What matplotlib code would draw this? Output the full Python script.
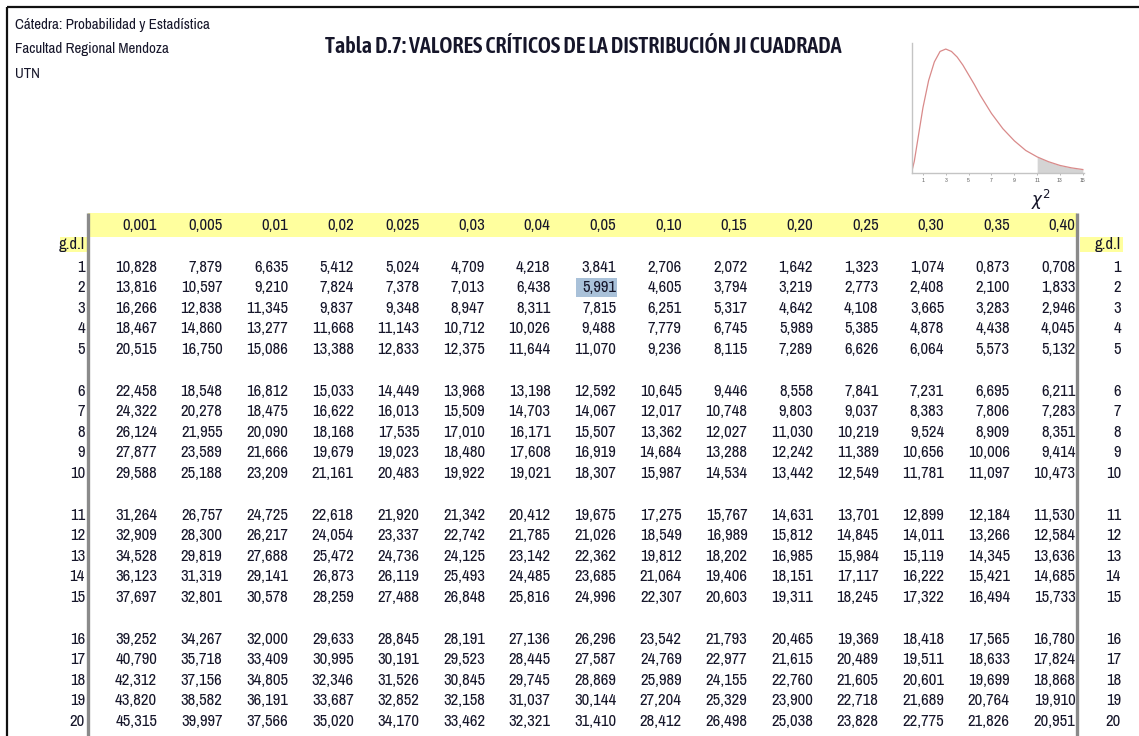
import matplotlib
matplotlib.use('Agg')
import matplotlib.pyplot as plt
from matplotlib.patches import Rectangle

plt.rcParams['font.family'] = ['Archivo Narrow', 'Asap Condensed', 'DejaVu Sans']

# --- data ---
HEADER_LINES = ['Cátedra: Probabilidad y Estadística', 'Facultad Regional Mendoza', 'UTN']
TITLE = 'Tabla D.7: VALORES CRÍTICOS DE LA DISTRIBUCIÓN JI CUADRADA'
ALPHAS = ['0,001', '0,005', '0,01', '0,02', '0,025', '0,03', '0,04', '0,05',
          '0,10', '0,15', '0,20', '0,25', '0,30', '0,35', '0,40']
DF = list(range(1, 21))
CRIT = [
    [10.828, 7.879, 6.635, 5.412, 5.024, 4.709, 4.218, 3.841, 2.706, 2.072, 1.642, 1.323, 1.074, 0.873, 0.708],
    [13.816, 10.597, 9.210, 7.824, 7.378, 7.013, 6.438, 5.991, 4.605, 3.794, 3.219, 2.773, 2.408, 2.100, 1.833],
    [16.266, 12.838, 11.345, 9.837, 9.348, 8.947, 8.311, 7.815, 6.251, 5.317, 4.642, 4.108, 3.665, 3.283, 2.946],
    [18.467, 14.860, 13.277, 11.668, 11.143, 10.712, 10.026, 9.488, 7.779, 6.745, 5.989, 5.385, 4.878, 4.438, 4.045],
    [20.515, 16.750, 15.086, 13.388, 12.833, 12.375, 11.644, 11.070, 9.236, 8.115, 7.289, 6.626, 6.064, 5.573, 5.132],
    [22.458, 18.548, 16.812, 15.033, 14.449, 13.968, 13.198, 12.592, 10.645, 9.446, 8.558, 7.841, 7.231, 6.695, 6.211],
    [24.322, 20.278, 18.475, 16.622, 16.013, 15.509, 14.703, 14.067, 12.017, 10.748, 9.803, 9.037, 8.383, 7.806, 7.283],
    [26.124, 21.955, 20.090, 18.168, 17.535, 17.010, 16.171, 15.507, 13.362, 12.027, 11.030, 10.219, 9.524, 8.909, 8.351],
    [27.877, 23.589, 21.666, 19.679, 19.023, 18.480, 17.608, 16.919, 14.684, 13.288, 12.242, 11.389, 10.656, 10.006, 9.414],
    [29.588, 25.188, 23.209, 21.161, 20.483, 19.922, 19.021, 18.307, 15.987, 14.534, 13.442, 12.549, 11.781, 11.097, 10.473],
    [31.264, 26.757, 24.725, 22.618, 21.920, 21.342, 20.412, 19.675, 17.275, 15.767, 14.631, 13.701, 12.899, 12.184, 11.530],
    [32.909, 28.300, 26.217, 24.054, 23.337, 22.742, 21.785, 21.026, 18.549, 16.989, 15.812, 14.845, 14.011, 13.266, 12.584],
    [34.528, 29.819, 27.688, 25.472, 24.736, 24.125, 23.142, 22.362, 19.812, 18.202, 16.985, 15.984, 15.119, 14.345, 13.636],
    [36.123, 31.319, 29.141, 26.873, 26.119, 25.493, 24.485, 23.685, 21.064, 19.406, 18.151, 17.117, 16.222, 15.421, 14.685],
    [37.697, 32.801, 30.578, 28.259, 27.488, 26.848, 25.816, 24.996, 22.307, 20.603, 19.311, 18.245, 17.322, 16.494, 15.733],
    [39.252, 34.267, 32.000, 29.633, 28.845, 28.191, 27.136, 26.296, 23.542, 21.793, 20.465, 19.369, 18.418, 17.565, 16.780],
    [40.790, 35.718, 33.409, 30.995, 30.191, 29.523, 28.445, 27.587, 24.769, 22.977, 21.615, 20.489, 19.511, 18.633, 17.824],
    [42.312, 37.156, 34.805, 32.346, 31.526, 30.845, 29.745, 28.869, 25.989, 24.155, 22.760, 21.605, 20.601, 19.699, 18.868],
    [43.820, 38.582, 36.191, 33.687, 32.852, 32.158, 31.037, 30.144, 27.204, 25.329, 23.900, 22.718, 21.689, 20.764, 19.910],
    [45.315, 39.997, 37.566, 35.020, 34.170, 33.462, 32.321, 31.410, 28.412, 26.498, 25.038, 23.828, 22.775, 21.826, 20.951],
]
HIGHLIGHT = (2, '0,05')  # g.d.l 2, alpha 0.05

# density curve in the small sketch
PDF_X = [0, 0.25, 0.5, 1, 1.5, 2, 2.5, 3, 3.5, 4, 4.5, 5, 5.5, 6, 7, 8, 9, 10, 11, 12, 13, 14, 15]
PDF_Y = [0, 0.015, 0.037, 0.081, 0.115, 0.138, 0.151, 0.154, 0.151, 0.144, 0.134, 0.122,
         0.110, 0.097, 0.074, 0.055, 0.040, 0.028, 0.020, 0.014, 0.0094, 0.0064, 0.0043]
SKETCH_TICKS = [1, 3, 5, 7, 9, 11, 13, 15]
TAIL_START = 11

# --- figure ---
W, H = 1139, 736
fig = plt.figure(figsize=(W / 100, H / 100), dpi=100)
ax = fig.add_axes([0, 0, 1, 1])
ax.set_xlim(0, W)
ax.set_ylim(H, 0)
ax.axis('off')

TXT = '#16162a'
YELLOW = '#ffff9e'
GRAY = '#8a8a8a'
FS = 12

# outer border (top and left)
ax.plot([7, W], [6.5, 6.5], color='#111111', lw=1.6, solid_capstyle='butt')
ax.plot([7, 7], [6.5, H], color='#111111', lw=1.6, solid_capstyle='butt')

for i, line in enumerate(HEADER_LINES):
    ax.text(15, 25 + i * 24.5, line, fontsize=10.8, color=TXT, va='center', ha='left')

ax.text(583, 47, TITLE, fontsize=16, fontweight='semibold', color=TXT, va='center', ha='center',
        family=['Asap Condensed', 'DejaVu Sans'])

# table geometry
col_right = [157 + 65.6 * k for k in range(len(ALPHAS))]
row_y = [267 + (d - 1) * 20.6 + ((d - 1) // 5) * 21 for d in DF]
left_line, right_line = 88, 1077
top_band, bot_band = 213, 237

ax.add_patch(Rectangle((left_line, top_band), right_line - left_line, bot_band - top_band,
                       color=YELLOW, lw=0, zorder=1))
ax.add_patch(Rectangle((60, bot_band), left_line - 60, 15, color=YELLOW, lw=0, zorder=1))
ax.add_patch(Rectangle((right_line + 3, bot_band), 1123 - right_line - 3, 15, color=YELLOW, lw=0, zorder=1))

ax.plot([left_line, left_line], [top_band, H], color=GRAY, lw=2.4, solid_capstyle='butt', zorder=3)
ax.plot([right_line, right_line], [top_band, H], color=GRAY, lw=2.4, solid_capstyle='butt', zorder=3)

for a, xr in zip(ALPHAS, col_right):
    ax.text(xr, 225.5, a, fontsize=FS, color=TXT, ha='right', va='center', zorder=4)

ax.text(left_line - 3, 244.5, 'g.d.l', fontsize=FS, color=TXT, ha='right', va='center', zorder=4)
ax.text(1121, 244.5, 'g.d.l', fontsize=FS, color=TXT, ha='right', va='center', zorder=4)

hi_col = ALPHAS.index(HIGHLIGHT[1])
for d, y, row in zip(DF, row_y, CRIT):
    ax.text(left_line - 3, y, str(d), fontsize=FS, color=TXT, ha='right', va='center', zorder=4)
    ax.text(1121, y, str(d), fontsize=FS, color=TXT, ha='right', va='center', zorder=4)
    for k, (v, xr) in enumerate(zip(row, col_right)):
        s = f'{v:.3f}'.replace('.', ',')
        ax.text(xr, y, s, fontsize=FS, color=TXT, ha='right', va='center', zorder=4)
        if d == HIGHLIGHT[0] and k == hi_col:
            ax.add_patch(Rectangle((xr - 40, y - 9.5), 41, 19, color='#a9c1d9', lw=0, zorder=2))

# small sketch of the density with a shaded tail
sk = fig.add_axes([911.5 / W, 1 - 173 / H, (1084 - 911.5) / W, 130 / H])
sk.plot(PDF_X, PDF_Y, color='#d98a8a', lw=0.9)
tx = [x for x in PDF_X if x >= TAIL_START]
ty = [y for x, y in zip(PDF_X, PDF_Y) if x >= TAIL_START]
sk.fill_between(tx, ty, 0, color='#d4d4d4', lw=0)
sk.set_xlim(0, 15.1)
sk.set_ylim(0, 0.1615)
for side in ['top', 'right']:
    sk.spines[side].set_visible(False)
for side in ['left', 'bottom']:
    sk.spines[side].set_color('#c4c4c4')
    sk.spines[side].set_linewidth(1.0)
sk.set_yticks([])
sk.set_xticks(SKETCH_TICKS)
sk.set_xticklabels([str(t) for t in SKETCH_TICKS], fontsize=4.5, color='#666666')
sk.tick_params(axis='x', length=1.5, width=0.5, color='#999999', pad=2)
sk.patch.set_alpha(0)

ax.text(1041, 200, r'$\chi^2$', fontsize=12, color=TXT, ha='center', va='center')

fig.savefig('out.png', dpi=100)
